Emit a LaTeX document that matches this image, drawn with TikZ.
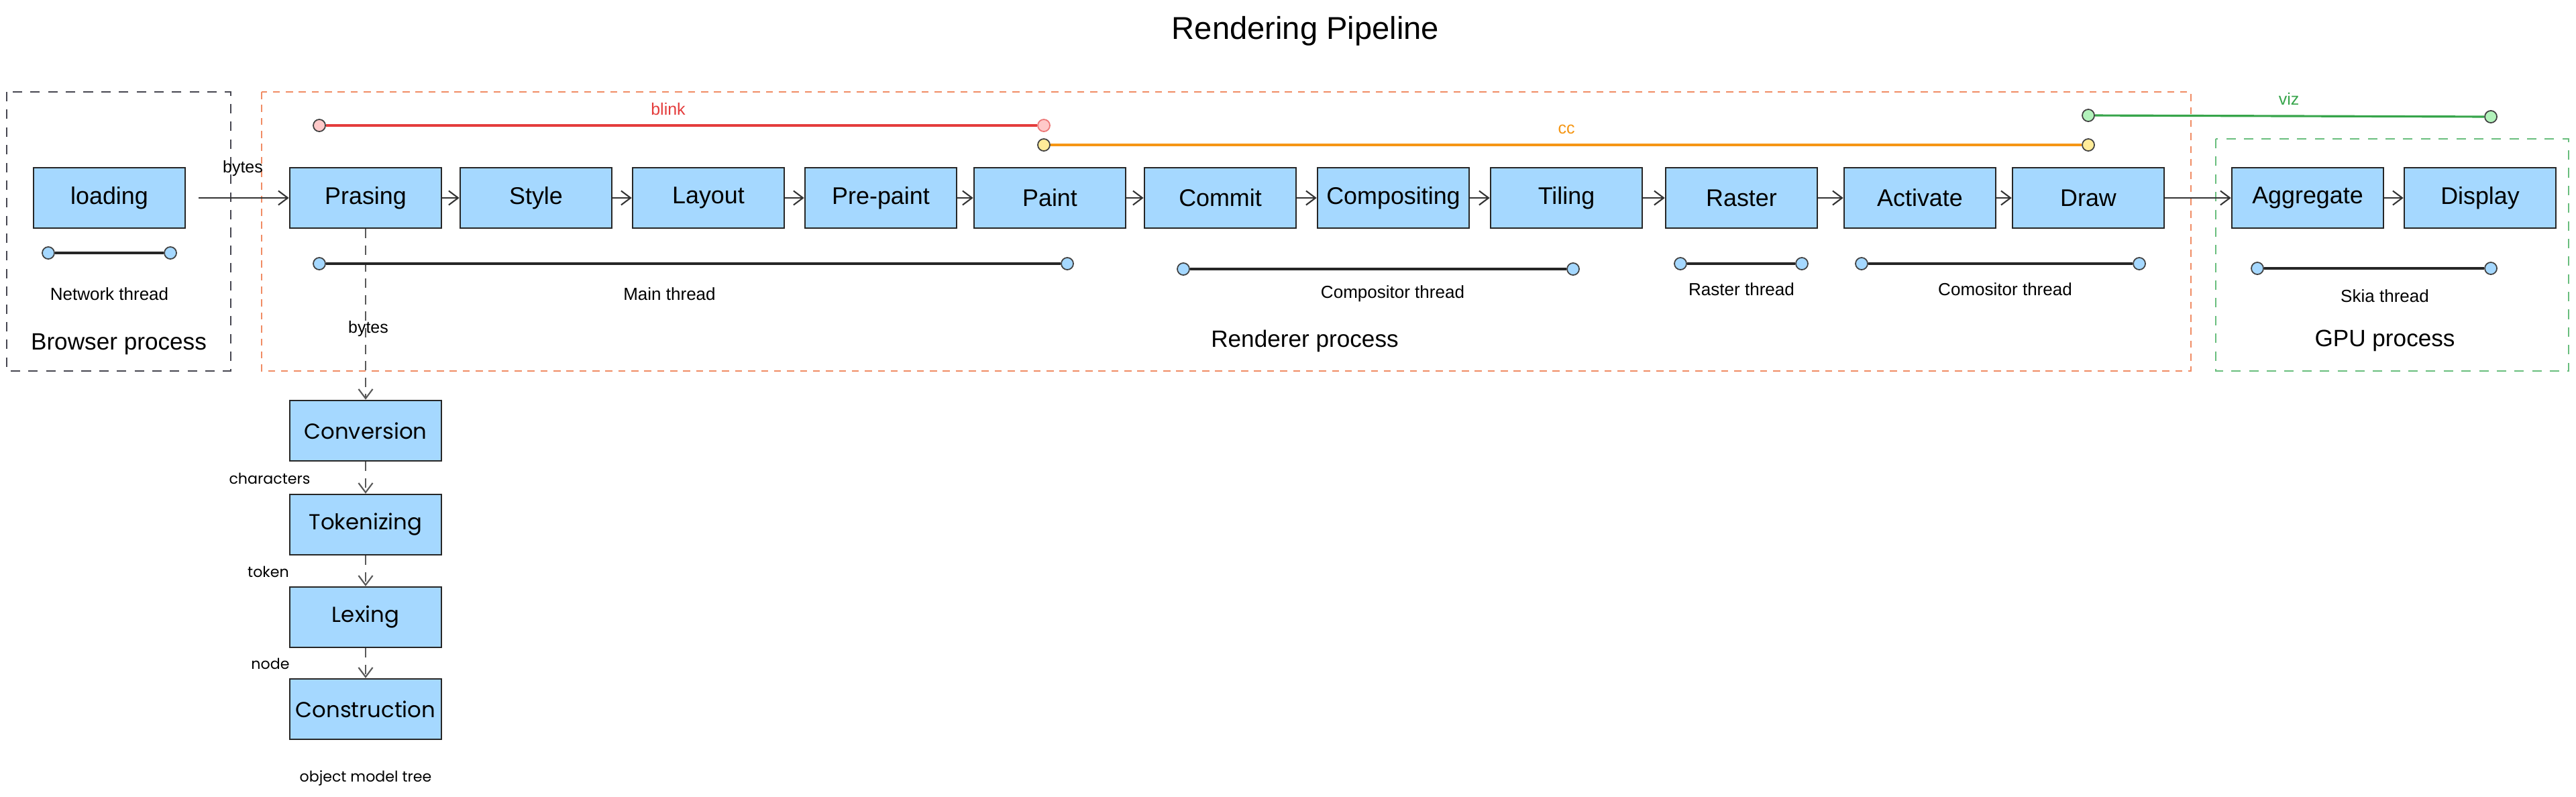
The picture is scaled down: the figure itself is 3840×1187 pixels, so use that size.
\documentclass[tikz,border=0pt]{standalone}
\usepackage{fontspec}
\setmainfont{Liberation Sans}
\newfontfamily\geofont{Poppins}
\usetikzlibrary{arrows.meta}
\definecolor{boxblue}{RGB}{165,216,255}
\definecolor{rendorange}{RGB}{240,140,100}
\definecolor{gpugreen}{RGB}{105,190,125}
\definecolor{browsergray}{RGB}{70,70,80}
\definecolor{blinkred}{RGB}{228,60,60}
\definecolor{blinkpink}{RGB}{255,201,201}
\definecolor{ccorange}{RGB}{245,150,20}
\definecolor{ccyellow}{RGB}{255,236,153}
\definecolor{vizgreen}{RGB}{55,165,75}
\definecolor{vizlight}{RGB}{178,242,187}
\tikzset{
  stagebox/.style={draw=black!85, line width=0.7pt, fill=boxblue, minimum width=2.26cm, minimum height=0.9cm, inner sep=0pt, font=\fontsize{10.2}{12}\selectfont},
  geobox/.style={stagebox, font=\geofont\fontsize{9.2}{11}\selectfont},
  procbox/.style={dashed, dash pattern=on 4pt off 3.5pt, line width=0.6pt},
  proclabel/.style={font=\fontsize{10}{12}\selectfont, inner sep=0pt},
  thrlabel/.style={font=\fontsize{7.4}{9}\selectfont, inner sep=0pt},
  smalllabel/.style={font=\fontsize{7.1}{9}\selectfont, inner sep=0pt},
  geolabel/.style={font=\geofont\fontsize{6.3}{8}\selectfont, inner sep=0pt},
  tdot/.style={circle, draw=black!75, line width=0.5pt, fill=boxblue, minimum size=0.18cm, inner sep=0pt},
  thr/.style={line width=0.9pt, draw=black!85},
  flow/.style={draw=black!80, line width=0.6pt, -{Straight Barb[length=4pt,width=6pt]}},
  dflow/.style={draw=black!65, line width=0.6pt, dashed, dash pattern=on 4pt off 3pt, -{Straight Barb[length=4pt,width=6pt]}},
}
\begin{document}
\begin{tikzpicture}[x=0.01cm,y=-0.01cm]
\useasboundingbox[fill=white] (0,0) rectangle (3840,1187);

% title
\node[font=\fontsize{13.4}{16}\selectfont] (title) at (1946,46) {Rendering Pipeline};

% process boxes
\draw[procbox, draw=browsergray] (10,137) rectangle (344,553);
\draw[procbox, draw=rendorange, dash pattern=on 3pt off 2.5pt] (390,137) rectangle (3266,553);
\draw[procbox, draw=gpugreen] (3303,207) rectangle (3829,553);
\node[proclabel] (lbrowser) at (177,513) {Browser process};
\node[proclabel] (lrenderer) at (1945,508) {Renderer process};
\node[proclabel] (lgpu) at (3555,508) {GPU process};

% stages
\node[stagebox] (loading) at (163,295) {loading};
\node[stagebox] (prasing) at (545,295) {Prasing};
\node[stagebox] (style) at (799,295) {Style};
\node[stagebox] (layout) at (1056,295) {Layout};
\node[stagebox] (prepaint) at (1313,295) {Pre-paint};
\node[stagebox] (paint) at (1565,295) {Paint};
\node[stagebox] (commit) at (1819,295) {Commit};
\node[stagebox] (compositing) at (2077,295) {Compositing};
\node[stagebox] (tiling) at (2335,295) {Tiling};
\node[stagebox] (raster) at (2596,295) {Raster};
\node[stagebox] (activate) at (2862,295) {Activate};
\node[stagebox] (drw) at (3113,295) {Draw};
\node[stagebox] (aggregate) at (3440,295) {Aggregate};
\node[stagebox] (display) at (3697,295) {Display};

\draw[flow, shorten <=0.19cm] (loading) -- node[smalllabel, above=9pt, xshift=0.08cm] (lbytes1) {bytes} (prasing);
\draw[flow] (prasing) -- (style);
\draw[flow] (style) -- (layout);
\draw[flow] (layout) -- (prepaint);
\draw[flow] (prepaint) -- (paint);
\draw[flow] (paint) -- (commit);
\draw[flow] (commit) -- (compositing);
\draw[flow] (compositing) -- (tiling);
\draw[flow] (tiling) -- (raster);
\draw[flow] (raster) -- (activate);
\draw[flow] (activate) -- (drw);
\draw[flow] (drw) -- (aggregate);
\draw[flow] (aggregate) -- (display);

% lower pipeline
\node[geobox] (conversion) at (545,642) {Conversion};
\node[geobox] (tokenizing) at (545,782) {Tokenizing};
\node[geobox] (lexing) at (545,920) {Lexing};
\node[geobox] (construction) at (545,1057) {Construction};
\draw[dflow] (prasing) -- (conversion);
\node[smalllabel] (lbytes2) at (549,490) {bytes};
\draw[dflow] (conversion) -- (tokenizing);
\draw[dflow] (tokenizing) -- (lexing);
\draw[dflow] (lexing) -- (construction);
\node[geolabel] (lchars) at (402,713) {characters};
\node[geolabel] (ltoken) at (400,852) {token};
\node[geolabel] (lnode) at (403,989) {node};
\node[geolabel] (lomt) at (545,1160) {object model tree};

% thread lines
\node[tdot] (n1) at (72,377) {};
\node[tdot] (n2) at (254,377) {};
\draw[thr] (n1) -- (n2);
\node[thrlabel] (lnet) at (163,438) {Network thread};

\node[tdot] (m1) at (476,393) {};
\node[tdot] (m2) at (1591,393) {};
\draw[thr] (m1) -- (m2);
\node[thrlabel] (lmain) at (998,438) {Main thread};

\node[tdot] (c1) at (1764,401) {};
\node[tdot] (c2) at (2345,401) {};
\draw[thr] (c1) -- (c2);
\node[thrlabel] (lcomp) at (2076,438) {Compositor thread};

\node[tdot] (r1) at (2505,393) {};
\node[tdot] (r2) at (2686,393) {};
\draw[thr] (r1) -- (r2);
\node[thrlabel] (lraster) at (2596,431) {Raster thread};

\node[tdot] (a1) at (2775,393) {};
\node[tdot] (a2) at (3189,393) {};
\draw[thr] (a1) -- (a2);
\node[thrlabel] (lcomo) at (2989,431) {Comositor thread};

\node[tdot] (s1) at (3365,400) {};
\node[tdot] (s2) at (3713,400) {};
\draw[thr] (s1) -- (s2);
\node[thrlabel] (lskia) at (3555,441) {Skia thread};

% top module lines
\node[tdot, fill=blinkpink] (b1) at (476,187) {};
\node[tdot, fill=blinkpink, draw=blinkred!70] (b2) at (1556,187) {};
\draw[thr, draw=blinkred] (b1) -- (b2);
\node[smalllabel, text=blinkred] (lblink) at (996,163) {blink};

\node[tdot, fill=ccyellow] (cc1) at (1556,216) {};
\node[tdot, fill=ccyellow] (cc2) at (3113,216) {};
\draw[thr, draw=ccorange] (cc1) -- (cc2);
\node[smalllabel, text=ccorange] (lcc) at (2335,193) {cc};

\node[tdot, fill=vizlight] (v1) at (3113,172) {};
\node[tdot, fill=vizlight] (v2) at (3713,174) {};
\draw[thr, draw=vizgreen] (v1) -- (v2);
\node[smalllabel, text=vizgreen] (lviz) at (3412,147) {viz};
\end{tikzpicture}
\end{document}
